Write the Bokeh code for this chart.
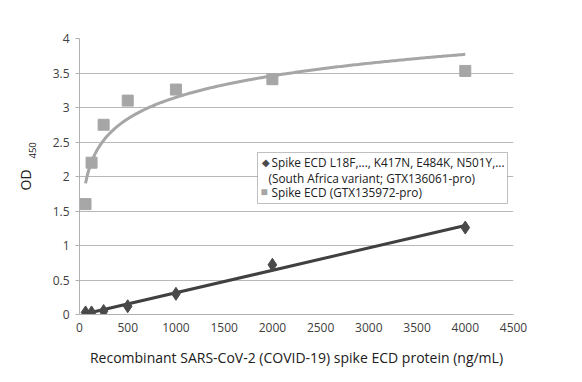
import numpy as np
from bokeh.plotting import figure
from bokeh.models import Label, BoxAnnotation, FixedTicker, Range1d, ColumnDataSource, Title
from bokeh.embed import file_html
from bokeh.resources import INLINE

# data
conc = [62.5, 125, 250, 500, 1000, 2000, 4000]
variant_od = [0.03, 0.03, 0.05, 0.12, 0.30, 0.72, 1.26]
wt_od = [1.60, 2.20, 2.75, 3.10, 3.26, 3.41, 3.53]
x_ticks = [0, 500, 1000, 1500, 2000, 2500, 3000, 3500, 4000, 4500]
y_ticks = [0, 0.5, 1, 1.5, 2, 2.5, 3, 3.5, 4]
legend_variant_1 = "Spike ECD L18F,...,  K417N, E484K, N501Y,..."
legend_variant_2 = "(South Africa variant; GTX136061-pro)"
legend_wt = "Spike ECD (GTX135972-pro)"
x_title = "Recombinant SARS-CoV-2 (COVID-19) spike ECD protein (ng/mL)"
y_title = "OD"
y_title_sub = "450"

FONT = "Open Sans"
DARK = "#4a4a4a"
LIGHT = "#a6a6a6"

p = figure(width=582, height=382, output_backend="svg", toolbar_location=None,
           x_range=Range1d(0, 4500), y_range=Range1d(0, 4),
           min_border_left=79, min_border_right=69, min_border_top=38, min_border_bottom=68)
p.outline_line_color = None
p.background_fill_color = "white"

# trendlines (least-squares fits to the data, as in the original)
xc = np.array(conc, dtype=float)
a, b = np.polyfit(np.log(xc), np.array(wt_od), 1)
xs = np.linspace(xc[0], xc[-1], 200)
p.line(xs, a * np.log(xs) + b, line_color=LIGHT, line_width=3)
m, c = np.polyfit(xc, np.array(variant_od), 1)
p.line([xc[0], xc[-1]], [m * xc[0] + c, m * xc[-1] + c], line_color="#404040", line_width=3)

src = ColumnDataSource(dict(x=conc, v=variant_od, w=wt_od))
p.scatter("x", "w", source=src, marker="square", size=11, fill_color=LIGHT, line_color=LIGHT)
p.scatter("x", "v", source=src, marker="diamond", size=13, fill_color=DARK, line_color=DARK)

# axes
p.xaxis.ticker = FixedTicker(ticks=x_ticks)
p.yaxis.ticker = FixedTicker(ticks=y_ticks)
p.yaxis.major_label_overrides = {0: "0", 1: "1", 2: "2", 3: "3", 4: "4"}
for ax in (p.xaxis[0], p.yaxis[0]):
    ax.axis_line_color = "#b0b0b0"
    ax.major_tick_line_color = "#b0b0b0"
    ax.minor_tick_line_color = None
    ax.major_tick_in = 0
    ax.major_tick_out = 4
    ax.major_label_text_font = FONT
    ax.major_label_text_font_size = "12px"
    ax.major_label_text_color = "#404040"
p.xaxis.major_tick_out = 0
p.xaxis.major_label_standoff = 8
p.yaxis.major_label_standoff = 6
p.xaxis.axis_label = x_title
p.xaxis.axis_label_text_font = FONT
p.xaxis.axis_label_text_font_size = "14px"
p.xaxis.axis_label_text_font_style = "normal"
p.xaxis.axis_label_text_color = "#202020"
p.xaxis.axis_label_standoff = 13

p.xgrid.grid_line_color = None
p.ygrid.grid_line_color = "#b8b8b8"
p.ygrid.grid_line_width = 1

# y axis title with subscript (inner panel: subscript, outer panel: "OD")
t_sub = Title(text=y_title_sub, align="left", offset=156, standoff=28,
              text_font=FONT, text_font_size="9.5px", text_font_style="normal",
              text_color="#202020")
t_od = Title(text=y_title, align="left", offset=124, standoff=0,
             text_font=FONT, text_font_size="14px", text_font_style="normal",
             text_color="#202020")
try:
    t_od.standoff = -44
except Exception:
    t_od.standoff = 0
p.add_layout(t_sub, "left")
p.add_layout(t_od, "left")

# legend (manual)
lx0, ly_top = 178, 162
p.add_layout(BoxAnnotation(left=lx0, right=lx0 + 250, top=ly_top, bottom=ly_top - 51,
                           left_units="screen", right_units="screen", top_units="screen",
                           bottom_units="screen", fill_color="white", fill_alpha=1,
                           line_color="#303030", line_width=1))
ls = dict(x_units="screen", y_units="screen", text_font=FONT, text_font_size="11.8px",
          text_color="#202020", text_baseline="middle")
p.add_layout(Label(x=lx0 + 4, y=ly_top - 9, text="\u25c6", **{**ls, "text_font_size": "10px", "text_color": DARK}))
p.add_layout(Label(x=lx0 + 14, y=ly_top - 9, text=legend_variant_1, **ls))
p.add_layout(Label(x=lx0 + 11, y=ly_top - 25, text=legend_variant_2, **ls))
p.add_layout(Label(x=lx0 + 3, y=ly_top - 39, text="\u25a0", **{**ls, "text_font_size": "12px", "text_color": LIGHT}))
p.add_layout(Label(x=lx0 + 14, y=ly_top - 39, text=legend_wt, **ls))

open("out.html", "w").write(file_html(p, INLINE))
